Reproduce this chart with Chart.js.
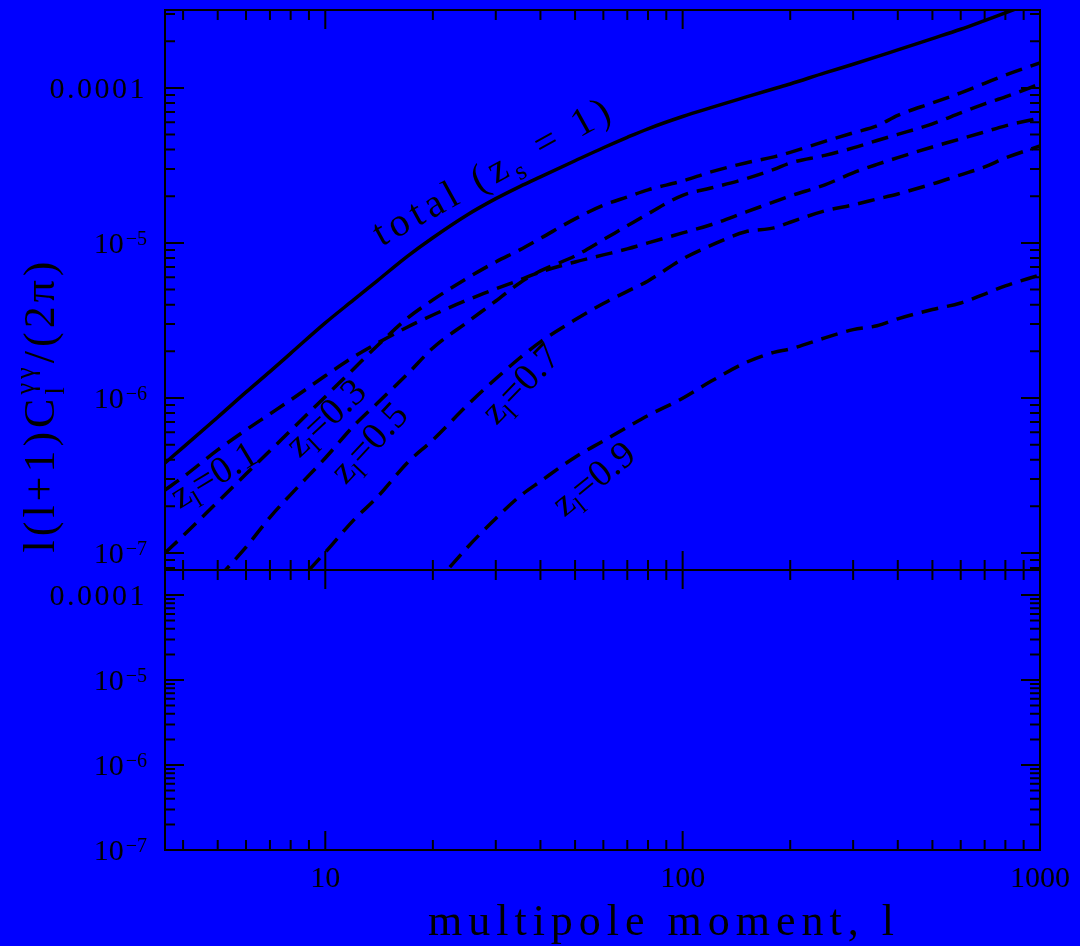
<!DOCTYPE html>
<html>
<head>
<meta charset="utf-8">
<title>Lensing power spectrum</title>
<script src="https://cdn.jsdelivr.net/npm/chart.js@4.4.1/dist/chart.umd.min.js"></script>
<style>
  html, body { margin: 0; padding: 0; background: #0000ff; }
  #wrap { position: relative; width: 1080px; height: 946px; }
  #wrap canvas { position: absolute; left: 0; top: 0; }
</style>
</head>
<body>
<div id="wrap">
  <canvas id="topChart" width="1080" height="946"></canvas>
  <canvas id="bottomChart" width="1080" height="946"></canvas>
</div>
<script>
// multipole moment l
const ell = [3.56, 4, 5, 6, 7, 8, 10, 12, 14, 17, 20, 25, 30, 35, 40, 50, 60, 70, 80,
  100, 120, 150, 180, 200, 250, 300, 350, 400, 500, 600, 700, 800, 1000];

// l(l+1)C_l/(2pi), total for sources at z_s = 1
const totalZs1 = [3.81e-7, 4.80e-7, 7.51e-7, 1.09e-6, 1.48e-6, 1.94e-6, 3.05e-6, 4.29e-6, 5.72e-6,
  8.22e-6, 1.08e-5, 1.52e-5, 1.93e-5, 2.31e-5, 2.67e-5, 3.39e-5, 4.11e-5, 4.80e-5, 5.45e-5,
  6.54e-5, 7.46e-5, 8.71e-5, 9.87e-5, 1.06e-4, 1.25e-4, 1.42e-4, 1.59e-4, 1.76e-4, 2.08e-4,
  2.39e-4, 2.72e-4, 3.05e-4, 3.70e-4];

// contributions of lens planes
const lensZ01 = [2.55e-7, 3.09e-7, 4.62e-7, 6.22e-7, 7.89e-7, 9.71e-7, 1.39e-6, 1.84e-6, 2.26e-6,
  2.87e-6, 3.43e-6, 4.29e-6, 5.05e-6, 5.77e-6, 6.50e-6, 7.54e-6, 8.37e-6, 9.15e-6, 1.00e-5,
  1.16e-5, 1.31e-5, 1.58e-5, 1.84e-5, 2.01e-5, 2.37e-5, 2.83e-5, 3.21e-5, 3.55e-5, 4.16e-5,
  4.69e-5, 5.20e-5, 5.69e-5, 6.40e-5];
const lensZ03 = [1.00e-7, 1.29e-7, 2.14e-7, 3.23e-7, 4.56e-7, 6.17e-7, 1.02e-6, 1.54e-6, 2.18e-6,
  3.28e-6, 4.29e-6, 5.94e-6, 7.54e-6, 9.02e-6, 1.07e-5, 1.43e-5, 1.75e-5, 1.98e-5, 2.20e-5,
  2.51e-5, 2.87e-5, 3.28e-5, 3.59e-5, 3.84e-5, 4.52e-5, 5.13e-5, 5.69e-5, 6.65e-5, 8.00e-5,
  9.29e-5, 1.07e-4, 1.21e-4, 1.45e-4];
const lensZ05 = [2.92e-8, 3.93e-8, 6.85e-8, 1.09e-7, 1.70e-7, 2.38e-7, 4.10e-7, 6.59e-7, 9.28e-7,
  1.43e-6, 2.10e-6, 3.09e-6, 4.22e-6, 5.52e-6, 6.60e-6, 8.24e-6, 1.05e-5, 1.29e-5, 1.54e-5,
  2.03e-5, 2.26e-5, 2.59e-5, 2.98e-5, 3.28e-5, 3.67e-5, 4.10e-5, 4.58e-5, 5.01e-5, 5.86e-5,
  6.90e-5, 7.89e-5, 8.75e-5, 1.06e-4];
const lensZ07 = [null, null, null, null, null, 5.82e-8, 1.01e-7, 1.63e-7, 2.30e-7,
  3.84e-7, 5.36e-7, 9.01e-7, 1.33e-6, 1.81e-6, 2.30e-6, 3.19e-6, 4.07e-6, 4.87e-6, 5.69e-6,
  7.88e-6, 9.64e-6, 1.18e-5, 1.25e-5, 1.36e-5, 1.61e-5, 1.76e-5, 1.92e-5, 2.07e-5, 2.40e-5,
  2.75e-5, 3.09e-5, 3.53e-5, 4.22e-5];
const lensZ09 = [null, null, null, null, null, null, null, null, null,
  null, 6.04e-8, 1.09e-7, 1.67e-7, 2.32e-7, 2.90e-7, 4.15e-7, 5.28e-7, 6.48e-7, 7.70e-7,
  9.95e-7, 1.28e-6, 1.69e-6, 1.97e-6, 2.07e-6, 2.44e-6, 2.76e-6, 2.92e-6, 3.24e-6, 3.72e-6,
  4.10e-6, 4.68e-6, 5.28e-6, 6.22e-6];

const xTickValues = [10, 100, 1000];
const xTickLabels = ['10', '100', '1000'];
const yTickValues = [1e-4, 1e-5, 1e-6, 1e-7];
const yTickLabels = [['0.0001', ''], ['10', '\u22125'], ['10', '\u22126'], ['10', '\u22127']];

const FONT = '"Liberation Serif", "Times New Roman", serif';

// curve labels, anchored in data coordinates
const curveLabels = [
  { runs: [['total (z', 1, 0], ['s', 0.65, 0.22], [' = 1)', 1, 0]], l: 29.6, c: 2.9e-5, angle: -28.8, size: 40, width: 270 },
  { runs: [['z', 1, 0], ['l', 0.65, 0.22], ['=0.1', 1, 0]], l: 4.89, c: 3.18e-7, angle: -31, size: 38, width: 95 },
  { runs: [['z', 1, 0], ['l', 0.65, 0.22], ['=0.3', 1, 0]], l: 10.06, c: 7.43e-7, angle: -43, size: 38, width: 95 },
  { runs: [['z', 1, 0], ['l', 0.65, 0.22], ['=0.5', 1, 0]], l: 13.3, c: 5.13e-7, angle: -47, size: 38, width: 95 },
  { runs: [['z', 1, 0], ['l', 0.65, 0.22], ['=0.7', 1, 0]], l: 35.3, c: 1.23e-6, angle: -46, size: 38, width: 95 },
  { runs: [['z', 1, 0], ['l', 0.65, 0.22], ['=0.9', 1, 0]], l: 56.5, c: 3.00e-7, angle: -39, size: 38, width: 95 }
];

function logTicks(min, max) {
  const out = [];
  for (let e = -10; e <= 4; e++) {
    for (let m = 1; m <= 9; m++) {
      const v = m * Math.pow(10, e);
      if (v >= min * 0.999 && v <= max * 1.001) out.push({ v, major: m === 1 });
    }
  }
  return out;
}

// draws text made of runs (normal / sub / sup), centred on (cx, cy) and rotated
function drawRich(ctx, runs, cx, cy, angleDeg, size, target) {
  ctx.save();
  ctx.letterSpacing = '0px';
  let w0 = 0, n = 0;
  const widths = runs.map(([t, k, dy, noAdv]) => {
    ctx.font = `${size * k}px ${FONT}`;
    const w = ctx.measureText(t).width;
    if (!noAdv) { w0 += w; n += [...t].length; }
    return w;
  });
  const ls = target ? (target - w0) / n : 0;
  const total = w0 + n * ls;
  ctx.translate(cx, cy);
  ctx.rotate(angleDeg * Math.PI / 180);
  ctx.fillStyle = '#000';
  ctx.textAlign = 'left';
  ctx.textBaseline = 'alphabetic';
  let x = -total / 2;
  const base = 0.3 * size;
  runs.forEach(([t, k, dy, noAdv], i) => {
    ctx.font = `${size * k}px ${FONT}`;
    ctx.letterSpacing = ls + 'px';
    ctx.fillText(t, x, base + dy * size);
    if (!noAdv) x += widths[i] + [...t].length * ls;
  });
  ctx.restore();
}

function drawYTickLabel(ctx, parts, py) {
  const [main, sup] = parts;
  ctx.textAlign = 'left';
  ctx.textBaseline = 'alphabetic';
  ctx.fillStyle = '#000';
  const ls = sup ? 0 : 2.5;
  ctx.letterSpacing = '0px';
  ctx.font = `30px ${FONT}`;
  const wm = ctx.measureText(main).width + (sup ? 0 : main.length * ls);
  ctx.font = `20px ${FONT}`;
  const ws = sup ? ctx.measureText(sup).width + 2 : 0;
  const x0 = 147 - wm - ws;
  ctx.font = `30px ${FONT}`;
  ctx.letterSpacing = ls + 'px';
  ctx.fillText(main, x0, py + 10);
  ctx.letterSpacing = '0px';
  if (sup) {
    ctx.font = `20px ${FONT}`;
    ctx.fillText(sup, x0 + wm + 2, py + 2);
  }
}

function framePlugin(extra) {
  return {
    id: 'frame',
    afterDraw(chart) {
      const { ctx, chartArea: a } = chart;
      const xs = chart.scales.x, ys = chart.scales.y;
      ctx.save();
      ctx.strokeStyle = '#000';
      ctx.lineWidth = 2;
      ctx.strokeRect(a.left, a.top, a.right - a.left, a.bottom - a.top);
      ctx.beginPath();
      logTicks(xs.min, xs.max).forEach(t => {
        const px = xs.getPixelForValue(t.v);
        const len = t.major ? 19 : 10;
        ctx.moveTo(px, a.top); ctx.lineTo(px, a.top + len);
        ctx.moveTo(px, a.bottom); ctx.lineTo(px, a.bottom - len);
      });
      logTicks(ys.min, ys.max).forEach(t => {
        const py = ys.getPixelForValue(t.v);
        const len = t.major ? 19 : 10;
        ctx.moveTo(a.left, py); ctx.lineTo(a.left + len, py);
        ctx.moveTo(a.right, py); ctx.lineTo(a.right - len, py);
      });
      ctx.stroke();
      yTickValues.forEach((v, i) => {
        if (v < ys.min * 0.999 || v > ys.max * 1.001) return;
        drawYTickLabel(ctx, yTickLabels[i], ys.getPixelForValue(v));
      });
      extra(chart, ctx, xs, ys);
      ctx.restore();
    }
  };
}

function baseOptions(yMin, yMax, padding) {
  return {
    responsive: false,
    animation: false,
    devicePixelRatio: 1,
    layout: { padding },
    plugins: { legend: { display: false }, tooltip: { enabled: false } },
    elements: { point: { radius: 0 } },
    scales: {
      x: { type: 'logarithmic', min: 3.56, max: 1000, display: false },
      y: { type: 'logarithmic', min: yMin, max: yMax, display: false }
    }
  };
}

function series(values, dashed) {
  return {
    data: ell.map((l, i) => ({ x: l, y: values[i] })),
    borderColor: '#000',
    borderWidth: 3.5,
    borderDash: dashed ? [17, 9] : [],
    cubicInterpolationMode: 'monotone',
    spanGaps: false,
    fill: false
  };
}

// Top panel with the curves
new Chart(document.getElementById('topChart'), {
  type: 'line',
  data: {
    datasets: [
      series(totalZs1, false),
      series(lensZ01, true),
      series(lensZ03, true),
      series(lensZ05, true),
      series(lensZ07, true),
      series(lensZ09, true)
    ]
  },
  options: baseOptions(7.77e-8, 3.18e-4, { left: 165, right: 40, top: 10, bottom: 376 }),
  plugins: [framePlugin((chart, ctx, xs, ys) => {
    curveLabels.forEach(lb => {
      drawRich(ctx, lb.runs, xs.getPixelForValue(lb.l), ys.getPixelForValue(lb.c),
        lb.angle, lb.size, lb.width);
    });
    // y axis title
    drawRich(ctx, [['l(l+1)C', 1, 0], ['l', 0.6, 0.22, true], ['\u03b3\u03b3', 0.6, -0.45], ['/(2\u03c0)', 1, 0]],
      41, 405, -90, 44, 295);
  })]
});

// Bottom panel, empty, carries the x axis
new Chart(document.getElementById('bottomChart'), {
  type: 'line',
  data: { datasets: [] },
  options: baseOptions(1e-7, 1.97e-4, { left: 165, right: 40, top: 570, bottom: 96 }),
  plugins: [framePlugin((chart, ctx, xs, ys) => {
    ctx.fillStyle = '#000';
    ctx.font = `30px ${FONT}`;
    ctx.textAlign = 'center';
    ctx.textBaseline = 'alphabetic';
    ctx.letterSpacing = '0px';
    xTickValues.forEach((v, i) => {
      ctx.fillText(xTickLabels[i], xs.getPixelForValue(v), 887);
    });
    ctx.font = `44px ${FONT}`;
    ctx.letterSpacing = '6px';
    ctx.fillText('multipole moment, l', 664, 935);
  })]
});
</script>
</body>
</html>
